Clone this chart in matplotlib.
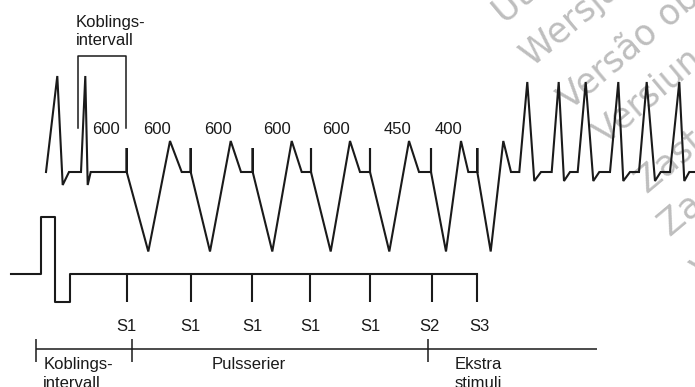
import matplotlib.pyplot as plt

plt.rcParams['font.family'] = ['Liberation Sans', 'DejaVu Sans']

# ECG trace (x, y) in picture units, y grows downwards
ecg_x = [46, 57.3, 62.7, 69, 81, 85.3, 87.7, 90.7,
         126.7, 126.7, 126.7, 148.3, 170, 181.7,
         190.7, 190.7, 190.7, 210, 230.7, 241,
         252.7, 252.7, 252.7, 272.3, 291.7, 301.7,
         311, 311, 311, 330.7, 350, 360,
         370, 370, 370, 389.3, 409, 419,
         431, 431, 431, 446, 461, 468.3,
         477.3, 477.3, 477.3, 490.7, 503.3, 511,
         519.3, 527.3, 534.3, 541, 551.7, 558.7, 564, 570,
         577.7, 585.7, 593.3, 599.3, 610, 618.3, 623.3, 630,
         639, 646.7, 655, 660.7, 670, 679.3, 684.3, 689.3, 695]
ecg_y = [172, 76, 185, 172, 172, 76, 185, 172,
         172, 148, 172, 251.5, 141, 172,
         172, 148, 172, 251.5, 141, 172,
         172, 148, 172, 251.5, 141, 172,
         172, 148, 172, 251.5, 141, 172,
         172, 148, 172, 251.5, 141, 172,
         172, 148, 172, 251.5, 141, 172,
         172, 148, 172, 251.5, 141, 172,
         172, 82, 181, 172, 172, 82, 181, 172,
         172, 82, 181, 172, 172, 82, 181, 172,
         172, 82, 181, 172, 172, 82, 181, 172, 172]

# stimulation channel
stim_x = [11, 40.7, 40.7, 55, 55, 70, 70, 476.7]
stim_y = [274.3, 274.3, 216.7, 216.7, 302.3, 302.3, 274.3, 274.3]
stim_pos = [126.7, 190.7, 252.3, 310, 370, 431.7, 476.7]
stim_labels = ["S1", "S1", "S1", "S1", "S1", "S2", "S3"]
stim_label_x = [126.7, 190.7, 252, 310, 370, 429.3, 479.3]

# cycle lengths (ms)
intervals = ["600", "600", "600", "600", "600", "450", "400"]
interval_x = [106, 157, 218, 277.3, 336, 397.3, 448.3]

# bottom timeline
phase_ticks = [35.7, 132.3, 428.3]
phase_labels = ["Koblings-\nintervall", "Pulsserier", "Ekstra\nstimuli"]
phase_label_x = [43.3, 248.3, 455]
phase_align = ["left", "center", "left"]

watermarks = ["Utdatert versjon", "Wersja przeterminowana", "Versão obsoleta",
              "Versiune expirată", "Zastaraná verzia", "Zastarela različica",
              "Vanhentunut versio"]
wm_x = [505, 533, 570, 606, 648, 671, 704]
wm_y = [25, 68, 111, 146, 195, 238, 282]

fig = plt.figure(figsize=(6.95, 3.87), dpi=100)
ax = fig.add_axes([0, 0, 1, 1])
ax.set_xlim(0, 695)
ax.set_ylim(387, 0)
ax.axis('off')

for t, x, y in zip(watermarks, wm_x, wm_y):
    ax.text(x, y, t, color='#bebebe', fontsize=25, rotation=40,
            rotation_mode='anchor', ha='left', va='baseline',
            family='DejaVu Sans', zorder=0, clip_on=True)

ink = '#1a1a1a'
ax.plot(ecg_x, ecg_y, color=ink, lw=1.5, solid_joinstyle='miter', zorder=2)
ax.plot(stim_x, stim_y, color=ink, lw=1.5, zorder=2)
ax.vlines(stim_pos, 274.3, 301.7, color=ink, lw=1.5, zorder=2)

for lab, x in zip(stim_labels, stim_label_x):
    ax.text(x, 326.7, lab, ha='center', va='center', fontsize=12, color=ink)
for lab, x in zip(intervals, interval_x):
    ax.text(x, 129, lab, ha='center', va='center', fontsize=12, color=ink)

# coupling interval bracket
ax.plot([78.3, 78.3, 125.7, 125.7], [128, 56, 56, 128], color=ink, lw=1.1)
ax.text(75.7, 15, "Koblings-\nintervall", ha='left', va='top', fontsize=12,
        color=ink, linespacing=1.22)

ax.hlines(349.3, 35.7, 596.7, color=ink, lw=1.1)
ax.vlines(phase_ticks, 339.3, 361.5, color=ink, lw=1.1)
for lab, x, a in zip(phase_labels, phase_label_x, phase_align):
    ax.text(x, 357, lab, ha=a, va='top', fontsize=12, color=ink,
            linespacing=1.3)

fig.savefig("out.png", dpi=100)
